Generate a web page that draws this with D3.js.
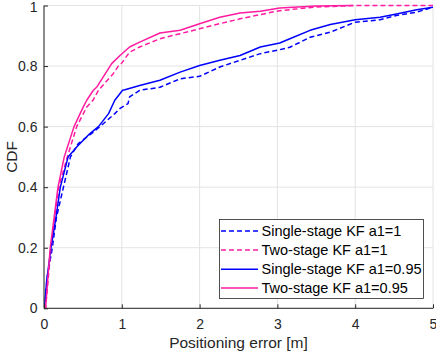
<!DOCTYPE html>
<html>
<head>
<meta charset="utf-8">
<script src="https://cdn.jsdelivr.net/npm/d3@7"></script>
<style>
  html, body { margin: 0; padding: 0; background: #fff; }
  svg { display: block; font-family: "Liberation Sans", Arial, sans-serif; }
</style>
</head>
<body>
<svg id="chart" width="436" height="353"></svg>
<script>
// ---- data ----
const xTicks = [0, 1, 2, 3, 4, 5];
const yTicks = [0, 0.2, 0.4, 0.6, 0.8, 1];
const yTickLabels = ["0", "0.2", "0.4", "0.6", "0.8", "1"];
const seriesNames = ["Single-stage KF a1=1", "Two-stage KF a1=1", "Single-stage KF a1=0.95", "Two-stage KF a1=0.95"];

const singleA1X = [0, 0.01, 0.04, 0.107, 0.16, 0.25, 0.34, 0.44, 0.61, 0.72, 0.91, 0.977, 1.08, 1.1, 1.23, 1.49, 1.75, 2.0, 2.26, 2.52, 2.78, 3.03, 3.16, 3.42, 3.68, 4.0, 4.32, 4.53, 4.79, 5.0];
const singleA1Y = [0, 0, 0.1, 0.2, 0.3, 0.4, 0.5, 0.544, 0.577, 0.6, 0.643, 0.66, 0.676, 0.698, 0.72, 0.73, 0.758, 0.766, 0.797, 0.819, 0.841, 0.854, 0.862, 0.895, 0.912, 0.945, 0.953, 0.967, 0.978, 0.994];

const twoA1X = [0, 0.02, 0.09, 0.14, 0.19, 0.3, 0.42, 0.55, 0.63, 0.70, 0.89, 0.955, 0.977, 1.1, 1.23, 1.49, 1.75, 2.0, 2.26, 2.52, 2.78, 3.03, 3.5, 4.0, 5.0];
const twoA1Y = [0, 0, 0.2, 0.3, 0.4, 0.5, 0.6, 0.665, 0.687, 0.72, 0.775, 0.8, 0.802, 0.846, 0.863, 0.89, 0.907, 0.923, 0.94, 0.956, 0.97, 0.983, 0.995, 1.0, 1.0];

const singleA095X = [0, 0.005, 0.035, 0.09, 0.154, 0.21, 0.31, 0.42, 0.59, 0.70, 0.83, 0.91, 1.01, 1.04, 1.23, 1.49, 1.75, 2.0, 2.26, 2.52, 2.78, 3.03, 3.16, 3.42, 3.68, 4.0, 4.32, 4.53, 4.79, 5.0];
const singleA095Y = [0, 0, 0.093, 0.2, 0.3, 0.4, 0.5, 0.533, 0.577, 0.6, 0.643, 0.687, 0.72, 0.722, 0.736, 0.753, 0.78, 0.802, 0.819, 0.835, 0.863, 0.876, 0.89, 0.918, 0.937, 0.953, 0.961, 0.972, 0.986, 0.994];

const twoA095X = [0, 0.02, 0.08, 0.13, 0.18, 0.26, 0.386, 0.505, 0.55, 0.634, 0.68, 0.87, 0.977, 1.1, 1.23, 1.49, 1.75, 2.0, 2.26, 2.52, 2.78, 3.03, 3.5, 3.97];
const twoA095Y = [0, 0, 0.2, 0.3, 0.4, 0.5, 0.6, 0.665, 0.687, 0.72, 0.731, 0.808, 0.835, 0.863, 0.879, 0.909, 0.918, 0.94, 0.961, 0.975, 0.981, 0.992, 0.998, 1.0];

// ---- build ----
const series = [
  { name: seriesNames[0], xs: singleA1X, ys: singleA1Y, color: "#0000ff", dash: "5,3" },
  { name: seriesNames[1], xs: twoA1X, ys: twoA1Y, color: "#ff1ca0", dash: "5,3" },
  { name: seriesNames[2], xs: singleA095X, ys: singleA095Y, color: "#0000ff", dash: null },
  { name: seriesNames[3], xs: twoA095X, ys: twoA095Y, color: "#ff1ca0", dash: null }
];

const svg = d3.select("#chart");
const x = d3.scaleLinear().domain([0, 5]).range([44, 433]);
const y = d3.scaleLinear().domain([0, 1]).range([308.3, 5.5]);
const axisColor = "#262626";

// grid
const grid = svg.append("g");
grid.selectAll("line.gx").data(xTicks).enter().append("line")
  .attr("x1", d => x(d)).attr("x2", d => x(d))
  .attr("y1", y(0)).attr("y2", y(1))
  .attr("stroke", "#e3e3e3").attr("stroke-width", 1);
grid.selectAll("line.gy").data(yTicks).enter().append("line")
  .attr("x1", x(0)).attr("x2", x(5))
  .attr("y1", d => y(d)).attr("y2", d => y(d))
  .attr("stroke", "#e3e3e3").attr("stroke-width", 1);

// clip
svg.append("clipPath").attr("id", "clip").append("rect")
  .attr("x", x(0)).attr("y", y(1) - 2).attr("width", x(5) - x(0)).attr("height", y(0) - y(1) + 2);

const line = d3.line().x(d => x(d[0])).y(d => y(d[1]));
const lines = svg.append("g").attr("clip-path", "url(#clip)");
series.forEach(s => {
  const pts = s.xs.map((v, i) => [v, s.ys[i]]);
  lines.append("path").datum(pts)
    .attr("d", line)
    .attr("fill", "none")
    .attr("stroke", s.color)
    .attr("stroke-width", 1.5)
    .attr("stroke-dasharray", s.dash)
    .attr("stroke-linejoin", "round");
});

// axes
const xAxis = d3.axisBottom(x).tickValues(xTicks).tickSize(-4).tickPadding(10.5).tickFormat(d3.format("d"));
const gx = svg.append("g").attr("transform", `translate(0,${y(0)})`).call(xAxis);
const yAxis = d3.axisLeft(y).tickValues(yTicks).tickSize(-4).tickPadding(6.5).tickFormat((d, i) => yTickLabels[i]);
const gy = svg.append("g").attr("transform", `translate(${x(0)},0)`).call(yAxis);
[gx, gy].forEach(g => {
  g.select(".domain").attr("stroke", axisColor).attr("stroke-width", 1);
  g.selectAll(".tick line").attr("stroke", axisColor);
  g.selectAll(".tick text").attr("fill", axisColor).style("font-size", "14px").style("font-family", "'Liberation Sans', Arial, sans-serif");
});
gy.selectAll(".tick text").filter(d => d === 1).attr("dy", "0.45em");
gx.select(".domain").attr("d", `M${x(0)},0H${x(5)}`);
gy.select(".domain").attr("d", `M0,${y(0)}V${y(1)}`);

// axis titles
svg.append("text").attr("x", (x(0) + x(5)) / 2).attr("y", 348.3)
  .attr("text-anchor", "middle").attr("fill", axisColor).style("font-size", "15.5px")
  .text("Positioning error [m]");
svg.append("text").attr("transform", `translate(16.5,${(y(0) + y(1)) / 2}) rotate(-90)`)
  .attr("text-anchor", "middle").attr("fill", axisColor).style("font-size", "15.5px")
  .text("CDF");

// legend
const lg = svg.append("g");
lg.append("rect").attr("x", 219.5).attr("y", 219.5).attr("width", 204).attr("height", 79)
  .attr("fill", "#fff").attr("stroke", axisColor).attr("stroke-width", 0.8);
const rowY = [231, 250, 269.3, 288];
series.forEach((s, i) => {
  lg.append("line").attr("x1", 221).attr("x2", 258).attr("y1", rowY[i]).attr("y2", rowY[i])
    .attr("stroke", s.color).attr("stroke-width", 1.5).attr("stroke-dasharray", s.dash);
  lg.append("text").attr("x", 261.5).attr("y", rowY[i]).attr("dy", "0.35em")
    .attr("fill", "#000").style("font-size", "14.5px").text(s.name);
});
</script>
</body>
</html>
